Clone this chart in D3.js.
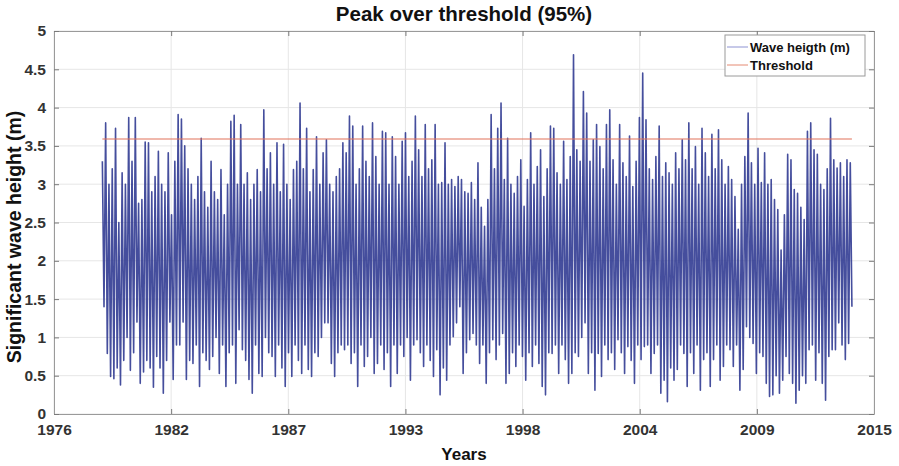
<!DOCTYPE html>
<html>
<head>
<meta charset="utf-8">
<script src="https://cdn.jsdelivr.net/npm/d3@7"></script>
<style>
  html, body { margin: 0; padding: 0; background: #fff; }
  svg { display: block; font-family: "Liberation Sans", Arial, sans-serif; }
</style>
</head>
<body>
<svg id="chart" width="899" height="466"></svg>
<script>
// ---------------- data ----------------
const chartTitle = "Peak over threshold (95%)";
const xAxisLabel = "Years";
const yAxisLabel = "Significant wave height (m)";
const seriesNames = ["Wave heigth (m)", "Threshold"];

const xTickLabels = ["1976", "1982", "1987", "1993", "1998", "2004", "2009", "2015"];
const xDomainYears = [1976, 2015];
const yTicks = [0, 0.5, 1, 1.5, 2, 2.5, 3, 3.5, 4, 4.5, 5];

const recordStartYear = 1978.3;
const recordEndYear = 2013.95;
const thresholdValue = 3.59;

// successive high / low readings of the wave-height record (m)
const waveHigh = [
  3.30,3.80,3.00,3.20,3.73,2.50,3.15,3.00,3.87,3.30,3.87,2.75,2.80,3.55,3.54,2.90,3.10,3.43,3.00,2.90,3.41,2.60,3.30,3.91,3.85,3.50,3.20,
  3.00,2.80,3.10,3.60,2.90,2.70,3.30,2.90,2.80,3.19,2.60,3.00,3.82,3.90,3.00,3.78,3.00,3.15,2.80,3.00,3.19,2.90,3.97,3.20,3.41,3.00,3.54,2.90,3.52,3.00,2.80,3.19,3.30,4.06,3.20,3.73,2.90,3.19,3.62,3.00,3.41,
  3.58,3.00,2.90,3.10,3.20,3.54,3.41,3.89,3.76,3.00,3.20,3.76,3.30,3.10,3.80,3.36,3.00,3.69,3.67,3.00,3.62,3.36,3.00,3.56,3.67,3.10,3.30,3.89,3.45,3.10,3.78,3.20,3.32,3.78,3.00,3.02,3.54,3.00,3.06,2.97,3.10,
  3.06,2.90,2.88,3.02,2.80,3.28,2.70,2.45,2.80,3.91,3.20,3.73,4.06,3.06,3.60,3.00,2.88,3.10,3.32,2.71,3.06,3.67,3.00,3.23,3.45,2.84,3.20,3.76,3.73,3.15,3.00,3.56,3.06,3.36,4.69,3.45,3.30,4.21,3.93,3.30,3.58,
  3.78,3.49,3.20,3.78,3.97,3.32,3.00,3.78,3.28,3.10,3.63,2.97,3.30,3.87,4.45,3.84,3.20,3.06,3.36,3.76,3.10,3.28,3.15,3.00,3.41,3.20,3.58,3.32,3.80,3.20,3.49,3.00,3.73,3.41,3.10,3.65,3.20,3.71,3.32,3.00,3.23,
  3.06,2.84,2.41,3.00,3.36,3.93,3.28,3.00,3.47,3.02,3.41,3.00,3.06,2.80,2.67,2.14,2.60,3.39,3.32,2.93,2.88,2.70,2.54,3.69,3.80,3.45,3.39,3.00,2.93,3.20,3.86,3.32,3.21,3.28,3.10,3.32,3.28
];
const waveLow = [
  1.40,0.79,0.49,0.46,0.60,0.38,0.70,1.00,0.57,0.80,1.20,0.40,0.55,0.70,0.60,0.35,0.75,0.60,0.27,0.70,1.20,0.45,0.90,0.90,1.20,0.45,0.70,
  0.66,0.90,0.36,0.80,0.70,0.58,0.75,1.00,0.53,0.90,0.36,0.80,0.90,0.40,1.10,0.84,0.70,0.45,0.27,0.90,0.53,0.49,1.00,0.80,0.75,0.49,0.90,0.60,0.36,0.80,0.49,0.90,0.70,0.53,0.90,0.58,0.49,0.80,0.75,1.00,1.19,
  1.19,0.66,0.49,0.80,0.90,0.84,0.90,0.66,0.80,0.36,0.90,0.62,0.75,1.00,0.53,0.66,0.90,0.58,0.80,0.36,0.90,0.53,0.90,0.75,1.00,0.44,0.90,0.97,0.80,0.62,0.90,0.70,0.49,0.84,0.25,0.60,0.44,0.90,1.01,1.19,1.40,
  0.53,0.80,0.97,1.05,0.90,0.66,0.90,0.40,0.80,0.97,0.71,0.90,1.05,0.40,0.53,0.80,0.62,0.90,0.75,0.44,0.80,0.62,0.90,0.66,0.36,0.25,0.80,0.79,0.90,0.53,0.90,0.71,0.40,0.53,0.80,0.75,1.00,1.19,0.53,0.80,0.31,
  0.79,0.49,0.90,0.71,0.80,0.58,0.97,0.80,0.53,0.88,0.70,0.40,0.90,0.71,0.88,0.90,0.53,0.79,0.90,0.27,0.44,0.16,0.60,0.44,0.58,0.90,0.79,0.36,0.80,0.53,0.90,0.31,0.71,0.80,0.36,0.71,0.90,0.44,0.62,0.90,0.84,
  0.62,0.90,0.31,0.58,1.14,1.00,0.92,0.53,0.80,0.75,0.40,0.23,0.25,0.50,0.27,0.44,0.75,0.53,0.40,0.14,0.31,0.50,0.40,0.84,0.90,0.44,0.80,0.40,0.18,0.75,0.84,0.84,1.19,0.90,0.71,0.92,1.40
];

// ---------------- layout ----------------
const W = 899, H = 466;
const margin = { left: 54, right: 25, top: 31, bottom: 52 };
const plotW = W - margin.left - margin.right;
const plotH = H - margin.top - margin.bottom;

const svg = d3.select("#chart");
const g = svg.append("g").attr("transform", `translate(${margin.left},${margin.top})`);

const x = d3.scaleLinear().domain(xDomainYears).range([0, plotW]);
const y = d3.scaleLinear().domain([0, 5]).range([plotH, 0]);

const xTickVals = xTickLabels.map((_, i) => xDomainYears[0] + i * (xDomainYears[1] - xDomainYears[0]) / (xTickLabels.length - 1));

// series: interleave high / low readings in time order
const nPts = waveHigh.length * 2;
const series = [];
waveHigh.forEach((hv, i) => {
  series.push({ t: recordStartYear + (2 * i) * (recordEndYear - recordStartYear) / (nPts - 1), v: hv });
  series.push({ t: recordStartYear + (2 * i + 1) * (recordEndYear - recordStartYear) / (nPts - 1), v: waveLow[i] });
});

// grid
g.append("g").selectAll("line").data(yTicks).join("line")
  .attr("x1", 0).attr("x2", plotW).attr("y1", d => y(d)).attr("y2", d => y(d))
  .attr("stroke", "#e6e6e6").attr("stroke-width", 1);
g.append("g").selectAll("line").data(xTickVals).join("line")
  .attr("y1", 0).attr("y2", plotH).attr("x1", d => x(d)).attr("x2", d => x(d))
  .attr("stroke", "#e6e6e6").attr("stroke-width", 1);

// wave height line
const line = d3.line().x(d => x(d.t)).y(d => y(d.v));
g.append("path").datum(series)
  .attr("d", line)
  .attr("fill", "none")
  .attr("stroke", "#2b3690")
  .attr("stroke-width", 1.6)
  .attr("stroke-opacity", 0.88)
  .attr("stroke-linejoin", "round");

// threshold
g.append("line")
  .attr("x1", x(recordStartYear)).attr("x2", x(recordEndYear))
  .attr("y1", y(thresholdValue)).attr("y2", y(thresholdValue))
  .attr("stroke", "#e2735a").attr("stroke-width", 1.2);

// axes (MATLAB-style box with inward ticks)
const tickColor = "#7a7a7a";
const xAxisB = g.append("g").attr("transform", `translate(0,${plotH})`)
  .call(d3.axisBottom(x).tickValues(xTickVals).tickFormat((d, i) => xTickLabels[i]).tickSizeInner(-5).tickSizeOuter(0).tickPadding(10));
const xAxisT = g.append("g")
  .call(d3.axisTop(x).tickValues(xTickVals).tickFormat("").tickSizeInner(-5).tickSizeOuter(0));
const yAxisL = g.append("g")
  .call(d3.axisLeft(y).tickValues(yTicks).tickFormat(d3.format("")).tickSizeInner(-5).tickSizeOuter(0).tickPadding(8));
const yAxisR = g.append("g").attr("transform", `translate(${plotW},0)`)
  .call(d3.axisRight(y).tickValues(yTicks).tickFormat("").tickSizeInner(-5).tickSizeOuter(0));
[xAxisB, xAxisT, yAxisL, yAxisR].forEach(a => {
  a.select(".domain").attr("stroke", "#9a9a9a").attr("stroke-width", 1);
  a.selectAll(".tick line").attr("stroke", tickColor);
  a.selectAll("text").attr("fill", "#333").attr("font-size", 15.5).attr("font-weight", "bold")
    .attr("font-family", "'Liberation Sans', Arial, sans-serif");
});
xAxisB.selectAll("text").attr("dy", "0.71em");

// titles
svg.append("text").attr("x", margin.left + plotW / 2).attr("y", 21)
  .attr("text-anchor", "middle").attr("font-size", 20.5).attr("font-weight", "bold").attr("fill", "#111")
  .text(chartTitle);
svg.append("text").attr("x", margin.left + plotW / 2).attr("y", 460)
  .attr("text-anchor", "middle").attr("font-size", 17).attr("font-weight", "bold").attr("fill", "#111")
  .text(xAxisLabel);
svg.append("text").attr("transform", `translate(21,${237}) rotate(-90)`)
  .attr("text-anchor", "middle").attr("font-size", 19.5).attr("font-weight", "bold").attr("fill", "#111")
  .text(yAxisLabel);

// legend
const lg = svg.append("g").attr("transform", "translate(725,35)");
lg.append("rect").attr("width", 140).attr("height", 41)
  .attr("fill", "#fff").attr("stroke", "#9a9a9a").attr("stroke-width", 1);
const legendColors = ["#8e93d2", "#e58a72"];
seriesNames.forEach((name, i) => {
  const yy = 12 + i * 18;
  lg.append("line").attr("x1", 2).attr("x2", 23).attr("y1", yy).attr("y2", yy)
    .attr("stroke", legendColors[i]).attr("stroke-width", 1);
  lg.append("text").attr("x", 25).attr("y", yy + 5)
    .attr("font-size", 13).attr("font-weight", "bold").attr("fill", "#111").text(name);
});
</script>
</body>
</html>
